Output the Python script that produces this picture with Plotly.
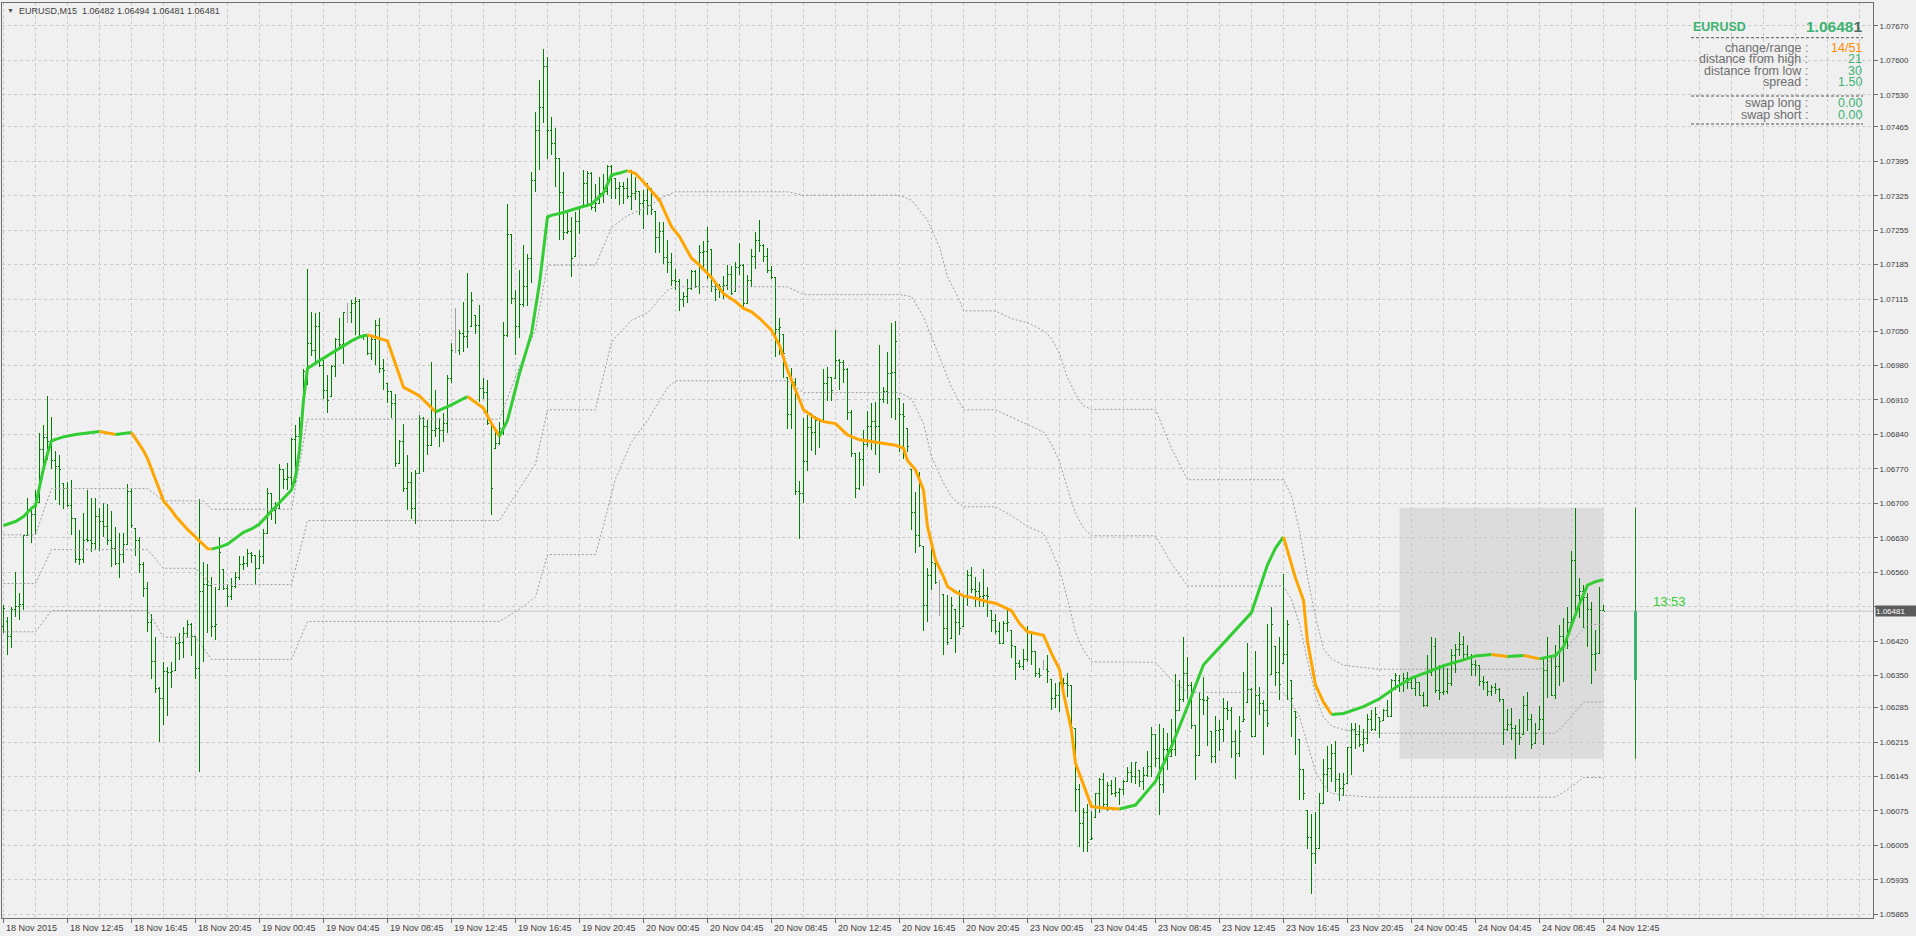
import plotly.graph_objects as go

# ---------------- data (EURUSD M15 bars, index 0 = 18 Nov 2015 08:45) ----------------
bar_open = [
1.06450,1.06460,1.06429,1.06485,1.06490,1.06495,1.06634,1.06686,1.06678,1.06701,
1.06810,1.06833,1.06825,1.06788,1.06774,1.06741,1.06730,1.06696,1.06669,1.06586,
1.06585,1.06626,1.06624,1.06619,1.06673,1.06663,1.06652,1.06625,1.06608,1.06578,
1.06597,1.06617,1.06725,1.06649,1.06625,1.06575,1.06526,1.06458,1.06378,1.06323,
1.06304,1.06358,1.06357,1.06361,1.06416,1.06418,1.06436,1.06453,1.06429,1.06365,
1.06520,1.06536,1.06534,1.06450,1.06524,1.06566,1.06527,1.06510,1.06532,1.06550,
1.06575,1.06578,1.06598,1.06594,1.06568,1.06592,1.06639,1.06719,1.06686,1.06690,
1.06768,1.06749,1.06753,1.06830,1.06835,1.06895,1.06967,1.07024,1.07011,1.07060,
1.06980,1.06930,1.06917,1.06979,1.07033,1.07022,1.07087,1.07087,1.07107,1.07110,
1.07042,1.07040,1.07005,1.07032,1.07062,1.06974,1.06944,1.06927,1.06903,1.06781,
1.06825,1.06730,1.06742,1.06690,1.06761,1.06873,1.06856,1.06818,1.06849,1.06852,
1.06849,1.06862,1.06954,1.07011,1.07011,1.07045,1.07038,1.07059,1.07082,1.07062,
1.06933,1.06925,1.06862,1.06812,1.06822,1.06852,1.07040,1.07247,1.07116,1.07059,
1.07103,1.07141,1.07198,1.07355,1.07458,1.07504,1.07588,1.07458,1.07431,1.07400,
1.07332,1.07250,1.07252,1.07201,1.07272,1.07306,1.07350,1.07370,1.07302,1.07309,
1.07330,1.07333,1.07384,1.07360,1.07340,1.07343,1.07340,1.07323,1.07330,1.07333,
1.07309,1.07316,1.07305,1.07292,1.07240,1.07252,1.07200,1.07189,1.07152,1.07150,
1.07114,1.07120,1.07137,1.07172,1.07140,1.07209,1.07211,1.07216,1.07140,1.07135,
1.07140,1.07143,1.07164,1.07130,1.07180,1.07184,1.07106,1.07152,1.07202,1.07235,
1.07223,1.07202,1.07174,1.07159,1.07053,1.07044,1.06956,1.06881,1.06945,1.06724,
1.06720,1.06785,1.06854,1.06844,1.06869,1.06866,1.06944,1.06956,1.06954,1.06990,
1.06986,1.06971,1.06884,1.06801,1.06730,1.06790,1.06820,1.06857,1.06866,1.06856,
1.06911,1.06927,1.06963,1.06965,1.06913,1.06880,1.06852,1.06768,1.06681,1.06635,
1.06612,1.06493,1.06554,1.06578,1.06537,1.06514,1.06446,1.06426,1.06485,1.06457,
1.06449,1.06510,1.06554,1.06524,1.06521,1.06510,1.06512,1.06483,1.06462,1.06439,
1.06416,1.06456,1.06441,1.06409,1.06375,1.06368,1.06382,1.06439,1.06399,1.06355,
1.06363,1.06363,1.06342,1.06304,1.06310,1.06334,1.06333,1.06329,1.06243,1.06119,
1.06049,1.06071,1.06017,1.06062,1.06111,1.06138,1.06089,1.06126,1.06111,1.06112,
1.06118,1.06135,1.06153,1.06145,1.06158,1.06135,1.06148,1.06166,1.06231,1.06182,
1.06128,1.06199,1.06185,1.06200,1.06280,1.06301,1.06355,1.06330,1.06248,1.06187,
1.06301,1.06299,1.06236,1.06185,1.06239,1.06241,1.06284,1.06280,1.06216,1.06192,
1.06256,1.06295,1.06321,1.06227,1.06309,1.06294,1.06280,1.06353,1.06410,1.06356,
1.06375,1.06392,1.06341,1.06277,1.06220,1.06160,1.06076,1.06021,1.05989,1.05999,
1.06090,1.06149,1.06161,1.06191,1.06139,1.06121,1.06131,1.06203,1.06240,1.06230,
1.06210,1.06222,1.06260,1.06240,1.06265,1.06258,1.06280,1.06266,1.06340,1.06341,
1.06331,1.06345,1.06335,1.06324,1.06335,1.06310,1.06289,1.06356,1.06410,1.06320,
1.06315,1.06317,1.06333,1.06390,1.06404,1.06413,1.06392,1.06387,1.06373,1.06370,
1.06338,1.06335,1.06317,1.06325,1.06322,1.06301,1.06240,1.06250,1.06242,1.06233,
1.06231,1.06290,1.06261,1.06212,1.06240,1.06261,1.06361,1.06389,1.06310,1.06369,
1.06430,1.06417,1.06457,1.06583,1.06513,1.06520,1.06508,1.06485,1.06392,1.06394,
1.06482]

bar_high = [
1.06493,1.06470,1.06489,1.06561,1.06517,1.06636,1.06710,1.06693,1.06727,1.06842,
1.06859,1.06918,1.06875,1.06806,1.06798,1.06741,1.06744,1.06747,1.06669,1.06646,
1.06680,1.06727,1.06710,1.06710,1.06690,1.06700,1.06699,1.06685,1.06652,1.06639,
1.06639,1.06739,1.06730,1.06649,1.06632,1.06581,1.06541,1.06476,1.06429,1.06327,
1.06378,1.06368,1.06378,1.06429,1.06436,1.06449,1.06464,1.06456,1.06429,1.06708,
1.06581,1.06576,1.06551,1.06531,1.06632,1.06566,1.06534,1.06548,1.06561,1.06592,
1.06592,1.06608,1.06602,1.06594,1.06606,1.06647,1.06732,1.06719,1.06703,1.06780,
1.06769,1.06782,1.06832,1.06859,1.06876,1.06972,1.07177,1.07089,1.07086,1.07089,
1.06994,1.06960,1.06981,1.07035,1.07076,1.07089,1.07107,1.07113,1.07120,1.07116,
1.07045,1.07042,1.07042,1.07072,1.07076,1.06994,1.06944,1.06927,1.06923,1.06829,
1.06862,1.06798,1.06764,1.06768,1.06879,1.06876,1.06869,1.06988,1.06930,1.06873,
1.06883,1.06960,1.07025,1.07096,1.07052,1.07110,1.07167,1.07130,1.07082,1.07103,
1.06954,1.06950,1.06862,1.06849,1.06866,1.07069,1.07309,1.07247,1.07133,1.07175,
1.07225,1.07206,1.07374,1.07495,1.07561,1.07624,1.07607,1.07485,1.07462,1.07402,
1.07374,1.07296,1.07281,1.07292,1.07304,1.07377,1.07376,1.07373,1.07349,1.07364,
1.07370,1.07387,1.07387,1.07360,1.07353,1.07353,1.07360,1.07377,1.07364,1.07333,
1.07336,1.07350,1.07340,1.07292,1.07272,1.07272,1.07235,1.07209,1.07176,1.07155,
1.07130,1.07155,1.07175,1.07174,1.07225,1.07233,1.07262,1.07216,1.07148,1.07145,
1.07162,1.07185,1.07182,1.07190,1.07228,1.07187,1.07164,1.07216,1.07252,1.07275,
1.07227,1.07218,1.07182,1.07159,1.07076,1.07044,1.06956,1.06974,1.06955,1.06746,
1.06873,1.06879,1.06883,1.06877,1.06871,1.06972,1.06978,1.06957,1.07052,1.06994,
1.06992,1.06974,1.06889,1.06803,1.06805,1.06849,1.06888,1.06903,1.06906,1.07021,
1.06936,1.07008,1.07067,1.07070,1.06913,1.06904,1.06852,1.06768,1.06724,1.06764,
1.06612,1.06568,1.06615,1.06578,1.06545,1.06514,1.06514,1.06510,1.06485,1.06524,
1.06514,1.06564,1.06571,1.06551,1.06541,1.06566,1.06531,1.06483,1.06476,1.06458,
1.06460,1.06488,1.06441,1.06409,1.06382,1.06405,1.06451,1.06439,1.06400,1.06365,
1.06382,1.06392,1.06342,1.06334,1.06338,1.06345,1.06356,1.06331,1.06243,1.06130,
1.06081,1.06090,1.06074,1.06112,1.06141,1.06153,1.06133,1.06138,1.06144,1.06121,
1.06138,1.06164,1.06175,1.06175,1.06158,1.06165,1.06196,1.06245,1.06231,1.06252,
1.06243,1.06234,1.06261,1.06353,1.06342,1.06428,1.06388,1.06338,1.06249,1.06317,
1.06347,1.06309,1.06236,1.06267,1.06260,1.06304,1.06299,1.06286,1.06239,1.06267,
1.06357,1.06416,1.06324,1.06400,1.06326,1.06301,1.06455,1.06490,1.06410,1.06428,
1.06556,1.06463,1.06341,1.06277,1.06220,1.06161,1.06076,1.06068,1.06073,1.06111,
1.06181,1.06207,1.06212,1.06217,1.06153,1.06153,1.06205,1.06254,1.06254,1.06249,
1.06242,1.06273,1.06280,1.06286,1.06265,1.06282,1.06300,1.06343,1.06356,1.06352,
1.06356,1.06357,1.06347,1.06349,1.06335,1.06317,1.06392,1.06429,1.06427,1.06371,
1.06369,1.06366,1.06404,1.06415,1.06438,1.06431,1.06413,1.06394,1.06382,1.06370,
1.06350,1.06340,1.06331,1.06335,1.06324,1.06301,1.06282,1.06284,1.06249,1.06261,
1.06308,1.06317,1.06271,1.06254,1.06289,1.06384,1.06429,1.06391,1.06412,1.06452,
1.06468,1.06490,1.06604,1.06691,1.06548,1.06534,1.06518,1.06499,1.06443,1.06531,
1.06494]

bar_low = [
1.06436,1.06392,1.06407,1.06470,1.06463,1.06483,1.06634,1.06620,1.06636,1.06701,
1.06761,1.06788,1.06769,1.06707,1.06696,1.06688,1.06693,1.06636,1.06578,1.06575,
1.06578,1.06622,1.06602,1.06605,1.06603,1.06632,1.06615,1.06571,1.06575,1.06548,
1.06579,1.06617,1.06649,1.06592,1.06558,1.06510,1.06439,1.06344,1.06314,1.06216,
1.06250,1.06267,1.06324,1.06361,1.06382,1.06385,1.06426,1.06390,1.06344,1.06154,
1.06378,1.06436,1.06429,1.06422,1.06524,1.06524,1.06489,1.06504,1.06527,1.06544,
1.06564,1.06571,1.06578,1.06537,1.06568,1.06577,1.06639,1.06666,1.06658,1.06690,
1.06730,1.06727,1.06726,1.06741,1.06823,1.06890,1.06940,1.06999,1.06983,1.06976,
1.06911,1.06884,1.06917,1.06957,1.07011,1.06984,1.07067,1.07066,1.07042,1.07040,
1.07032,1.07001,1.06991,1.06981,1.06964,1.06930,1.06903,1.06873,1.06774,1.06781,
1.06724,1.06686,1.06669,1.06659,1.06761,1.06764,1.06798,1.06818,1.06835,1.06815,
1.06825,1.06842,1.06944,1.07005,1.07001,1.07008,1.07015,1.07059,1.07045,1.06906,
1.06913,1.06859,1.06676,1.06812,1.06818,1.06839,1.07038,1.07106,1.07001,1.07035,
1.07099,1.07101,1.07147,1.07333,1.07377,1.07472,1.07400,1.07407,1.07343,1.07236,
1.07236,1.07248,1.07160,1.07201,1.07247,1.07306,1.07302,1.07296,1.07292,1.07309,
1.07311,1.07326,1.07319,1.07319,1.07306,1.07309,1.07319,1.07296,1.07316,1.07286,
1.07258,1.07286,1.07286,1.07208,1.07208,1.07187,1.07168,1.07141,1.07133,1.07091,
1.07098,1.07107,1.07133,1.07137,1.07126,1.07174,1.07155,1.07130,1.07111,1.07118,
1.07116,1.07133,1.07123,1.07130,1.07164,1.07093,1.07106,1.07140,1.07177,1.07211,
1.07191,1.07168,1.07155,1.06998,1.07001,1.06954,1.06852,1.06852,1.06717,1.06627,
1.06701,1.06766,1.06807,1.06798,1.06812,1.06866,1.06908,1.06908,1.06954,1.06930,
1.06944,1.06870,1.06795,1.06710,1.06728,1.06735,1.06815,1.06808,1.06798,1.06761,
1.06903,1.06901,1.06873,1.06870,1.06805,1.06791,1.06805,1.06646,1.06600,1.06612,
1.06441,1.06459,1.06524,1.06537,1.06471,1.06392,1.06412,1.06426,1.06395,1.06433,
1.06449,1.06491,1.06517,1.06490,1.06490,1.06490,1.06470,1.06439,1.06435,1.06414,
1.06416,1.06439,1.06385,1.06341,1.06365,1.06361,1.06378,1.06372,1.06347,1.06345,
1.06361,1.06334,1.06280,1.06284,1.06277,1.06314,1.06307,1.06243,1.06072,1.06002,
1.05992,1.05992,1.06017,1.06062,1.06071,1.06081,1.06074,1.06108,1.06103,1.06087,
1.06108,1.06135,1.06131,1.06130,1.06124,1.06118,1.06143,1.06144,1.06165,1.06067,
1.06111,1.06158,1.06185,1.06187,1.06280,1.06297,1.06302,1.06241,1.06138,1.06187,
1.06270,1.06206,1.06172,1.06172,1.06196,1.06216,1.06260,1.06182,1.06139,1.06185,
1.06256,1.06295,1.06226,1.06227,1.06270,1.06189,1.06246,1.06353,1.06329,1.06301,
1.06375,1.06301,1.06226,1.06189,1.06097,1.06097,1.05997,1.05907,1.05967,1.05999,
1.06090,1.06114,1.06133,1.06114,1.06095,1.06105,1.06131,1.06149,1.06200,1.06205,
1.06195,1.06212,1.06238,1.06237,1.06223,1.06258,1.06265,1.06265,1.06321,1.06317,
1.06317,1.06322,1.06322,1.06308,1.06308,1.06286,1.06287,1.06350,1.06314,1.06300,
1.06310,1.06313,1.06329,1.06355,1.06389,1.06382,1.06385,1.06350,1.06350,1.06328,
1.06321,1.06308,1.06308,1.06313,1.06296,1.06210,1.06237,1.06219,1.06181,1.06210,
1.06231,1.06237,1.06200,1.06212,1.06240,1.06210,1.06305,1.06308,1.06303,1.06329,
1.06338,1.06405,1.06448,1.06476,1.06468,1.06447,1.06408,1.06333,1.06359,1.06394,
1.06481]

bar_close = [
1.06487,1.06429,1.06485,1.06490,1.06495,1.06634,1.06686,1.06678,1.06693,1.06810,
1.06833,1.06825,1.06788,1.06774,1.06768,1.06730,1.06696,1.06669,1.06586,1.06585,
1.06625,1.06624,1.06619,1.06673,1.06663,1.06652,1.06625,1.06608,1.06578,1.06597,
1.06617,1.06725,1.06655,1.06625,1.06575,1.06526,1.06458,1.06378,1.06323,1.06304,
1.06358,1.06357,1.06359,1.06416,1.06418,1.06436,1.06453,1.06429,1.06365,1.06520,
1.06536,1.06534,1.06450,1.06453,1.06600,1.06527,1.06510,1.06532,1.06550,1.06575,
1.06578,1.06598,1.06595,1.06568,1.06592,1.06639,1.06719,1.06686,1.06690,1.06768,
1.06749,1.06753,1.06830,1.06835,1.06849,1.06967,1.07024,1.07011,1.07060,1.06980,
1.06930,1.06908,1.06979,1.07033,1.07022,1.07087,1.07087,1.07107,1.07110,1.07042,
1.07040,1.07005,1.07032,1.07062,1.06974,1.06969,1.06927,1.06903,1.06781,1.06825,
1.06730,1.06742,1.06690,1.06761,1.06873,1.06856,1.06818,1.06849,1.06852,1.06849,
1.06862,1.06954,1.07011,1.07011,1.07045,1.07038,1.07049,1.07113,1.07062,1.06933,
1.06925,1.06862,1.06730,1.06822,1.06852,1.07040,1.07247,1.07116,1.07059,1.07103,
1.07141,1.07198,1.07355,1.07458,1.07504,1.07588,1.07458,1.07431,1.07400,1.07332,
1.07250,1.07252,1.07198,1.07272,1.07302,1.07350,1.07370,1.07302,1.07309,1.07330,
1.07333,1.07384,1.07364,1.07340,1.07343,1.07340,1.07323,1.07330,1.07333,1.07309,
1.07316,1.07305,1.07296,1.07240,1.07252,1.07200,1.07189,1.07152,1.07150,1.07114,
1.07120,1.07137,1.07172,1.07140,1.07209,1.07211,1.07231,1.07140,1.07135,1.07140,
1.07143,1.07164,1.07126,1.07180,1.07184,1.07106,1.07152,1.07202,1.07235,1.07223,
1.07202,1.07174,1.07159,1.07053,1.07058,1.07005,1.06881,1.06945,1.06724,1.06720,
1.06785,1.06854,1.06844,1.06869,1.06866,1.06944,1.06956,1.06930,1.06990,1.06986,
1.06971,1.06884,1.06801,1.06730,1.06790,1.06820,1.06857,1.06866,1.06856,1.06911,
1.06927,1.06963,1.06965,1.07028,1.06880,1.06876,1.06815,1.06681,1.06635,1.06614,
1.06493,1.06554,1.06580,1.06540,1.06537,1.06446,1.06417,1.06493,1.06457,1.06445,
1.06510,1.06554,1.06524,1.06521,1.06510,1.06512,1.06510,1.06462,1.06439,1.06416,
1.06456,1.06458,1.06412,1.06375,1.06368,1.06382,1.06439,1.06399,1.06355,1.06350,
1.06363,1.06358,1.06304,1.06310,1.06334,1.06333,1.06329,1.06245,1.06119,1.06049,
1.06071,1.06010,1.06019,1.06111,1.06138,1.06089,1.06126,1.06111,1.06112,1.06118,
1.06135,1.06153,1.06145,1.06173,1.06135,1.06148,1.06166,1.06231,1.06182,1.06128,
1.06199,1.06185,1.06200,1.06280,1.06301,1.06355,1.06330,1.06248,1.06187,1.06301,
1.06299,1.06303,1.06185,1.06239,1.06241,1.06284,1.06280,1.06216,1.06192,1.06236,
1.06261,1.06321,1.06227,1.06309,1.06294,1.06280,1.06252,1.06453,1.06356,1.06331,
1.06392,1.06453,1.06304,1.06265,1.06160,1.06110,1.06021,1.05989,1.05999,1.06090,
1.06149,1.06161,1.06191,1.06139,1.06121,1.06128,1.06203,1.06240,1.06230,1.06210,
1.06222,1.06260,1.06240,1.06270,1.06256,1.06280,1.06266,1.06340,1.06350,1.06331,
1.06345,1.06335,1.06324,1.06335,1.06310,1.06289,1.06356,1.06362,1.06320,1.06315,
1.06317,1.06333,1.06390,1.06404,1.06413,1.06392,1.06387,1.06373,1.06371,1.06338,
1.06335,1.06317,1.06325,1.06322,1.06301,1.06240,1.06250,1.06242,1.06233,1.06225,
1.06290,1.06261,1.06210,1.06233,1.06261,1.06361,1.06389,1.06310,1.06369,1.06430,
1.06417,1.06457,1.06583,1.06513,1.06520,1.06508,1.06485,1.06392,1.06394,1.06482,
1.06481]

# moving average (indicator nodes: bar index, value)
ma_x = [0,3,5,7,8,9,10,11,12,13,15,18,21,24,28,32,33,34,35,36,37,38,39,40,41,42,43,44,45,46,
        47,48,49,50,51,52,54,56,58,60,62,64,66,68,70,72,73,74,75,76,79,83,87,89,91,92,96,100,104,108,
        112,116,120,122,124,126,129,132,134,136,137,140,144,147,150,152,154,156,158,160,164,167,169,172,174,177,180,183,185,187,
        189,192,194,196,199,200,203,205,208,211,214,217,220,223,225,226,228,230,231,233,235,236,238,240,243,246,248,250,252,254,
        256,260,262,264,265,267,268,270,272,275,279,283,288,292,296,300,305,312,316,318,320,323,325,326,328,330,332,335,340,344,
        348,352,356,360,365,368,372,376,380,383,384,388,390,392,394,396,398,400]
ma_v = [1.06655,1.06663,1.06673,1.06690,1.06696,1.06737,1.06771,1.06801,1.06827,1.06830,
        1.06835,1.06840,1.06843,1.06846,1.06840,1.06844,1.06832,1.06818,1.06807,1.06791,
        1.06771,1.06747,1.06727,1.06705,1.06696,1.06686,1.06674,1.06664,1.06656,1.06647,
        1.06639,1.06630,1.06624,1.06615,1.06608,1.06607,1.06611,1.06617,1.06629,1.06641,
        1.06648,1.06658,1.06676,1.06693,1.06710,1.06727,1.06754,1.06808,1.06910,1.06974,
        1.06990,1.07010,1.07030,1.07038,1.07042,1.07040,1.07030,1.06936,1.06918,1.06886,
        1.06900,1.06917,1.06893,1.06862,1.06836,1.06869,1.06964,1.07045,1.07147,1.07282,
        1.07285,1.07291,1.07301,1.07308,1.07331,1.07367,1.07371,1.07376,1.07370,1.07353,
        1.07316,1.07262,1.07242,1.07198,1.07184,1.07159,1.07126,1.07110,1.07096,1.07089,
        1.07076,1.07052,1.07021,1.06971,1.06910,1.06890,1.06873,1.06866,1.06862,1.06839,
        1.06829,1.06825,1.06822,1.06818,1.06812,1.06787,1.06768,1.06727,1.06653,1.06585,
        1.06551,1.06531,1.06520,1.06512,1.06507,1.06500,1.06497,1.06489,1.06482,1.06456,
        1.06439,1.06432,1.06395,1.06363,1.06314,1.06239,1.06172,1.06128,1.06084,1.06081,
        1.06079,1.06087,1.06135,1.06206,1.06287,1.06372,1.06416,1.06478,1.06575,1.06609,
        1.06632,1.06548,1.06503,1.06419,1.06331,1.06296,1.06271,1.06273,1.06287,1.06303,
        1.06326,1.06345,1.06357,1.06370,1.06382,1.06390,1.06393,1.06389,1.06391,1.06385,
        1.06384,1.06391,1.06408,1.06454,1.06496,1.06534,1.06541,1.06545]

# channel bands (upper / middle / lower)
band_up_x = [0,8,12,36,40,50,52,72,76,124,129,133,136,148,152,156,161,165,168,196,
             200,224,227,231,234,236,239,240,248,252,256,260,262,264,266,268,270,272,288,292,
             296,320,322,324,326,328,330,332,335,344,384,390,396,400]
band_up = [1.06636,1.06636,1.06730,1.06730,1.06705,1.06705,1.06688,1.06688,1.06871,1.06871,
           1.06978,1.07052,1.07184,1.07184,1.07260,1.07285,1.07302,1.07323,1.07333,1.07333,
           1.07326,1.07326,1.07316,1.07275,1.07221,1.07160,1.07113,1.07091,1.07091,1.07075,
           1.07067,1.07051,1.07035,1.07004,1.06955,1.06922,1.06898,1.06891,1.06891,1.06812,
           1.06748,1.06748,1.06715,1.06645,1.06550,1.06470,1.06405,1.06384,1.06371,1.06363,
           1.06363,1.06400,1.06454,1.06454]
band_mid_x = [0,8,12,36,40,48,52,72,76,124,129,133,136,148,152,157,161,166,168,196,
              200,224,227,230,232,235,237,240,248,252,256,260,262,264,266,268,270,272,288,292,
              296,320,322,324,326,328,330,332,335,342,388,391,395,400]
band_mid = [1.06537,1.06537,1.06606,1.06606,1.06568,1.06568,1.06535,1.06535,1.06665,1.06665,
            1.06730,1.06780,1.06890,1.06890,1.07028,1.07072,1.07087,1.07133,1.07140,1.07140,
            1.07124,1.07124,1.07120,1.07079,1.07038,1.06977,1.06936,1.06890,1.06890,1.06875,
            1.06860,1.06845,1.06820,1.06785,1.06730,1.06680,1.06650,1.06634,1.06634,1.06578,
            1.06532,1.06532,1.06505,1.06455,1.06380,1.06310,1.06265,1.06248,1.06240,1.06233,
            1.06233,1.06258,1.06296,1.06296]
band_lo_x = [0,8,12,36,40,48,52,72,76,124,129,133,136,148,150,153,157,161,166,168,
             196,200,224,227,230,232,235,237,240,248,252,256,260,262,264,266,268,270,272,288,
             292,295,296,320,322,324,326,328,330,332,335,342,388,391,395,400]
band_lo = [1.06439,1.06439,1.06482,1.06482,1.06428,1.06428,1.06383,1.06383,1.06460,1.06460,
           1.06485,1.06510,1.06596,1.06596,1.06655,1.06750,1.06825,1.06868,1.06935,1.06949,
           1.06949,1.06925,1.06925,1.06913,1.06862,1.06795,1.06741,1.06713,1.06693,1.06693,
           1.06675,1.06653,1.06639,1.06605,1.06566,1.06505,1.06438,1.06402,1.06378,1.06377,
           1.06341,1.06321,1.06316,1.06316,1.06295,1.06267,1.06210,1.06155,1.06128,1.06111,
           1.06107,1.06103,1.06103,1.06118,1.06143,1.06143]

# axis labels
time_label_bars = [0,16,32,48,64,80,96,112,128,144,160,176,192,208,224,240,256,272,288,304,320,336,352,368,384,400]
time_labels = ["18 Nov 2015","18 Nov 12:45","18 Nov 16:45","18 Nov 20:45","19 Nov 00:45","19 Nov 04:45",
               "19 Nov 08:45","19 Nov 12:45","19 Nov 16:45","19 Nov 20:45","20 Nov 00:45","20 Nov 04:45",
               "20 Nov 08:45","20 Nov 12:45","20 Nov 16:45","20 Nov 20:45","23 Nov 00:45","23 Nov 04:45",
               "23 Nov 08:45","23 Nov 12:45","23 Nov 16:45","23 Nov 20:45","24 Nov 00:45","24 Nov 04:45",
               "24 Nov 08:45","24 Nov 12:45"]
price_labels = ["1.07670","1.07600","1.07530","1.07465","1.07395","1.07325","1.07255","1.07185","1.07115",
                "1.07050","1.06980","1.06910","1.06840","1.06770","1.06700","1.06630","1.06560","1.06490",
                "1.06420","1.06350","1.06285","1.06215","1.06145","1.06075","1.06005","1.05935","1.05865"]
day_start_bar = 349          # first bar of 24 Nov
symbol = "EURUSD"
timeframe = "M15"
spread_text = "1.50"
swap_long_text = "0.00"
swap_short_text = "0.00"
timer_text = "13:53"

# ---------------- layout constants ----------------
W, H = 1916, 936
ML, MR, MT, MB = 2, 43, 3, 18
PW, PH = W - ML - MR, H - MT - MB
X_RANGE = [-0.375, -0.375 + PW / 4.0]
Y_RANGE = [1.0585753, 1.0771653]
DAILY_BAR_X = 408
BAR_GREEN = "#008000"
MA_UP, MA_DOWN = "#32cd32", "#ffa500"
GRID = "#c9c9c9"
FRAME = "#6d6d6d"
FONT = "Liberation Sans, Arial, sans-serif"


def px_x(px):
    return (px - ML) / PW


def px_y(py):
    return 1 - (py - MT) / PH


n = len(bar_close)
assert len(bar_open) == n and len(bar_high) == n and len(bar_low) == n
idx = list(range(n))

fig = go.Figure()

# channel bands
for bx, by in [(band_up_x, band_up), (band_mid_x, band_mid), (band_lo_x, band_lo)]:
    fig.add_trace(go.Scatter(x=bx, y=by, mode="lines", hoverinfo="skip",
                             line=dict(color="#9c9c9c", width=1, dash="2px,2px")))

# OHLC bars (regular and doji)
reg = [i for i in idx if bar_open[i] != bar_close[i]]
doj = [i for i in idx if bar_open[i] == bar_close[i]]
fig.add_trace(go.Ohlc(
    x=reg, open=[bar_open[i] for i in reg], high=[bar_high[i] for i in reg],
    low=[bar_low[i] for i in reg], close=[bar_close[i] for i in reg],
    increasing=dict(line=dict(color=BAR_GREEN, width=1)),
    decreasing=dict(line=dict(color=BAR_GREEN, width=1)),
    tickwidth=0.3, hoverinfo="skip"))
if doj:
    gap = min([b - a for a, b in zip(doj[:-1], doj[1:])] or [1])
    fig.add_trace(go.Ohlc(
        x=doj, open=[bar_open[i] for i in doj], high=[bar_high[i] for i in doj],
        low=[bar_low[i] for i in doj], close=[bar_close[i] for i in doj],
        increasing=dict(line=dict(color="#a0a0a0", width=1)),
        decreasing=dict(line=dict(color="#a0a0a0", width=1)),
        tickwidth=min(0.5, 0.3 / gap), hoverinfo="skip"))

# daily candle to the right
day_o = bar_open[day_start_bar]
day_h = max(bar_high[day_start_bar:])
day_l = min(bar_low[day_start_bar:])
day_c = bar_close[-1]
fig.add_trace(go.Scatter(x=[DAILY_BAR_X, DAILY_BAR_X], y=[day_l, day_h], mode="lines",
                         line=dict(color="#1a8a1a", width=1), hoverinfo="skip"))
fig.add_trace(go.Scatter(x=[DAILY_BAR_X, DAILY_BAR_X], y=[day_o, day_c], mode="lines",
                         line=dict(color="#3cb371", width=3), hoverinfo="skip"))

# moving average, coloured by slope
runs = []
cur = None
for k in range(len(ma_x) - 1):
    col = MA_UP if ma_v[k + 1] >= ma_v[k] else MA_DOWN
    if col != cur:
        runs.append([col, [ma_x[k]], [ma_v[k]]])
        cur = col
    runs[-1][1].append(ma_x[k + 1])
    runs[-1][2].append(ma_v[k + 1])
for col, rx, ry in runs:
    fig.add_trace(go.Scatter(x=rx, y=ry, mode="lines", hoverinfo="skip",
                             line=dict(color=col, width=3)))

shapes = [
    dict(type="rect", xref="x", yref="y", x0=day_start_bar, x1=n - 1, y0=day_l, y1=day_h,
         fillcolor="#dcdcdc", line=dict(width=0), layer="below"),
    dict(type="line", xref="paper", yref="y", x0=0, x1=1, y0=day_c, y1=day_c,
         line=dict(color="#c4c4c4", width=1), layer="below"),
]
for sy in (37.7, 96, 124):
    shapes.append(dict(type="line", xref="paper", yref="paper", x0=px_x(1691), x1=px_x(1863),
                       y0=px_y(sy), y1=px_y(sy), line=dict(color="#555555", width=1, dash="3px,2px")))

ann = []
# header text
ann.append(dict(xref="paper", yref="paper", x=px_x(5), y=px_y(10.5), xanchor="left", yanchor="middle",
                text="▼", showarrow=False, font=dict(size=7, color="#505050", family=FONT)))
ann.append(dict(xref="paper", yref="paper", x=px_x(17), y=px_y(10.7), xanchor="left", yanchor="middle",
                text=f"{symbol},{timeframe}  {bar_open[-1]:.5f} {bar_high[-1]:.5f} {bar_low[-1]:.5f} {bar_close[-1]:.5f}",
                showarrow=False, font=dict(size=9, color="#404040", family=FONT)))
# time labels
for b, t in zip(time_label_bars, time_labels):
    ann.append(dict(xref="x", yref="paper", x=b, y=0, xanchor="left", yanchor="top", xshift=0, yshift=-3,
                    text=t, showarrow=False, font=dict(size=9, color="#3c3c3c", family=FONT)))
# info panel
green = "#3cb371"
last = f"{bar_close[-1]:.5f}"
ann.append(dict(xref="paper", yref="paper", x=px_x(1691), y=px_y(26.5), xanchor="left", yanchor="middle",
                text=f"<b>{symbol}</b>", showarrow=False, font=dict(size=12.5, color=green, family=FONT)))
ann.append(dict(xref="paper", yref="paper", x=px_x(1864), y=px_y(26.5), xanchor="right", yanchor="middle",
                text=f"<b>{last[:-1]}<span style='color:#4d6b5c'>{last[-1]}</span></b>", showarrow=False,
                font=dict(size=15.5, color=green, family=FONT)))
change = round((day_c - day_o) * 1e4)
rng = round((day_h - day_l) * 1e4)
d_high = round((day_h - day_c) * 1e4)
d_low = round((day_c - day_l) * 1e4)
rows = [("change/range :", f"{change}/{rng}", "#ff8c00", 47.7),
        ("distance from high :", f"{d_high}", green, 59.3),
        ("distance from low :", f"{d_low}", green, 70.7),
        ("spread :", spread_text, green, 82.0),
        ("swap long :", swap_long_text, green, 103.3),
        ("swap short :", swap_short_text, green, 114.7)]
for lab, val, vc, yy in rows:
    ann.append(dict(xref="paper", yref="paper", x=px_x(1810), y=px_y(yy), xanchor="right", yanchor="middle",
                    text=lab, showarrow=False, font=dict(size=12.5, color="#6e6e6e", family=FONT)))
    ann.append(dict(xref="paper", yref="paper", x=px_x(1864), y=px_y(yy), xanchor="right", yanchor="middle",
                    text=val, showarrow=False, font=dict(size=12.5, color=vc, family=FONT)))
# bar timer
ann.append(dict(xref="paper", yref="paper", x=px_x(1669), y=px_y(601.5), xanchor="center", yanchor="middle",
                text=timer_text, showarrow=False, font=dict(size=13, color=MA_UP, family=FONT)))
# current price tag on the axis
ann.append(dict(xref="paper", yref="y", x=px_x(1875), y=day_c, xanchor="left", yanchor="middle",
                text=last, showarrow=False, bgcolor="#5c5c5c", borderpad=0, width=41, height=10,
                align="left", font=dict(size=8, color="#ffffff", family=FONT)))

minor_vals = [v for v in range(0, 468, 8) if not (v % 16 == 0 and v <= 400)]
# the axis label hidden behind the price tag is left blank
tick_text = [("" if abs(float(p) - day_c) < 0.0002 else p) for p in price_labels]

fig.update_layout(
    width=W, height=H, margin=dict(l=ML, r=MR, t=MT, b=MB),
    paper_bgcolor="#f0f0f0", plot_bgcolor="#f0f0f0", showlegend=False,
    font=dict(family=FONT, size=9, color="#3c3c3c"),
    shapes=shapes, annotations=ann,
    xaxis=dict(range=X_RANGE, showline=True, linecolor=FRAME, linewidth=1, mirror=True,
               tickvals=time_label_bars, ticktext=[""] * len(time_label_bars),
               ticks="outside", ticklen=4, tickcolor=FRAME,
               showgrid=True, gridcolor=GRID, griddash="3px,3px", gridwidth=1, zeroline=False,
               rangeslider=dict(visible=False), fixedrange=True,
               minor=dict(tickvals=minor_vals, showgrid=True, gridcolor=GRID, griddash="3px,3px",
                          ticklen=0, gridwidth=1)),
    yaxis=dict(range=Y_RANGE, side="right", showline=True, linecolor=FRAME, linewidth=1, mirror=True,
               tickvals=[float(v) for v in price_labels], ticktext=tick_text,
               ticks="outside", ticklen=4, tickcolor=FRAME, tickfont=dict(size=8, color="#3c3c3c"),
               showgrid=True, gridcolor=GRID, griddash="3px,3px", gridwidth=1, zeroline=False,
               fixedrange=True),
)

post = ("document.body.style.margin='0px';document.body.style.overflow='hidden';"
        "document.querySelectorAll('.ohlclayer path').forEach(function(p){p.style.shapeRendering='crispEdges';});")
fig.write_html("out.html", config={"displayModeBar": False}, post_script=post)
